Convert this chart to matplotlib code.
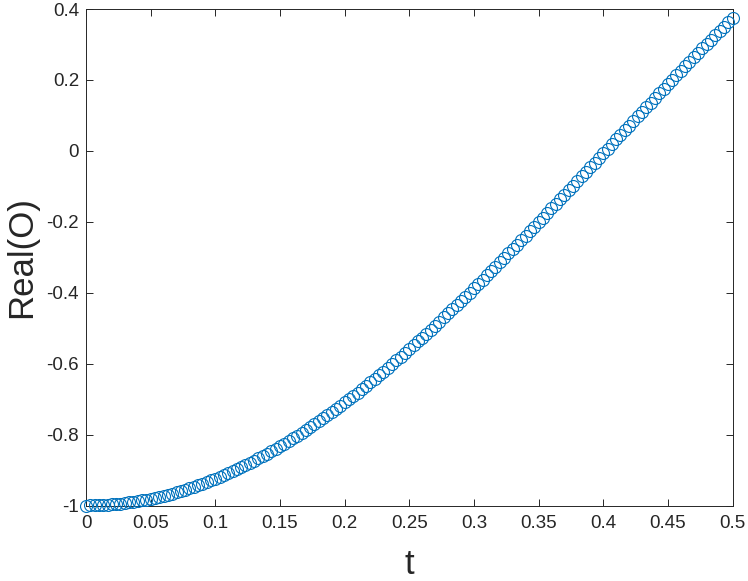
import numpy as np
import matplotlib
matplotlib.use("Agg")
import matplotlib.pyplot as plt

plt.rcParams['font.family'] = ['Liberation Sans', 'DejaVu Sans']
plt.rcParams['axes.unicode_minus'] = False

# time grid (151 samples between 0 and 0.5)
t = np.linspace(0, 0.5, 151)

real_o = [
    -1.0000, -0.9999, -0.9997, -0.9992, -0.9986, -0.9979, -0.9969, -0.9958, -0.9946, -0.9931,
    -0.9915, -0.9897, -0.9878, -0.9857, -0.9834, -0.9810, -0.9783, -0.9756, -0.9726, -0.9695,
    -0.9662, -0.9628, -0.9592, -0.9554, -0.9515, -0.9474, -0.9431, -0.9387, -0.9341, -0.9294,
    -0.9245, -0.9195, -0.9143, -0.9089, -0.9034, -0.8977, -0.8919, -0.8860, -0.8798, -0.8736,
    -0.8672, -0.8606, -0.8539, -0.8470, -0.8400, -0.8329, -0.8256, -0.8182, -0.8106, -0.8029,
    -0.7951, -0.7871, -0.7790, -0.7708, -0.7624, -0.7539, -0.7453, -0.7365, -0.7276, -0.7186,
    -0.7095, -0.7003, -0.6909, -0.6814, -0.6718, -0.6621, -0.6523, -0.6424, -0.6323, -0.6222,
    -0.6119, -0.6015, -0.5911, -0.5805, -0.5699, -0.5591, -0.5482, -0.5373, -0.5263, -0.5151,
    -0.5039, -0.4926, -0.4812, -0.4698, -0.4582, -0.4466, -0.4349, -0.4231, -0.4113, -0.3994,
    -0.3874, -0.3753, -0.3632, -0.3511, -0.3388, -0.3265, -0.3142, -0.3018, -0.2893, -0.2768,
    -0.2643, -0.2517, -0.2391, -0.2264, -0.2137, -0.2009, -0.1881, -0.1753, -0.1625, -0.1496,
    -0.1367, -0.1238, -0.1108, -0.0979, -0.0849, -0.0719, -0.0589, -0.0459, -0.0329, -0.0198,
    -0.0068, 0.0062, 0.0193, 0.0323, 0.0453, 0.0583, 0.0713, 0.0843, 0.0973, 0.1103,
    0.1232, 0.1361, 0.1490, 0.1619, 0.1748, 0.1876, 0.2004, 0.2131, 0.2258, 0.2385,
    0.2511, 0.2637, 0.2763, 0.2888, 0.3012, 0.3136, 0.3259, 0.3382, 0.3504, 0.3626,
    0.3747,
]

x_ticks = [0, 0.05, 0.1, 0.15, 0.2, 0.25, 0.3, 0.35, 0.4, 0.45, 0.5]
x_ticklabels = ['0', '0.05', '0.1', '0.15', '0.2', '0.25', '0.3', '0.35', '0.4', '0.45', '0.5']
y_ticks = [-1, -0.8, -0.6, -0.4, -0.2, 0, 0.2, 0.4]
y_ticklabels = ['-1', '-0.8', '-0.6', '-0.4', '-0.2', '0', '0.2', '0.4']

axis_color = '#262626'
line_color = '#0072BD'

fig = plt.figure(figsize=(7.48, 5.81), dpi=100)
ax = fig.add_axes([86 / 748, (581 - 505.5) / 581, 646.5 / 748, 496.5 / 581])

ax.plot(t, real_o, linestyle='none', marker='o', markersize=8.6,
        markerfacecolor='none', markeredgecolor=line_color, markeredgewidth=0.8,
        clip_on=False, zorder=3)

ax.set_xlim(0, 0.5)
ax.set_ylim(-1, 0.4)
ax.set_xticks(x_ticks)
ax.set_xticklabels(x_ticklabels)
ax.set_yticks(y_ticks)
ax.set_yticklabels(y_ticklabels)

ax.tick_params(direction='in', length=5, width=0.7, colors=axis_color,
               labelsize=13.5, top=True, right=True, labelcolor=axis_color)
ax.tick_params(axis='x', pad=7)
ax.tick_params(axis='y', pad=5)
for s in ax.spines.values():
    s.set_color(axis_color)
    s.set_linewidth(0.7)

ax.set_xlabel('t', fontsize=25, color=axis_color, va='center')
ax.set_ylabel('Real(O)', fontsize=25, color=axis_color, va='center')
ax.xaxis.set_label_coords(0.5, (505.5 - 564) / 496.5)
ax.yaxis.set_label_coords((22 - 86) / 646.5, 0.5)

fig.savefig('out.png', dpi=100)
